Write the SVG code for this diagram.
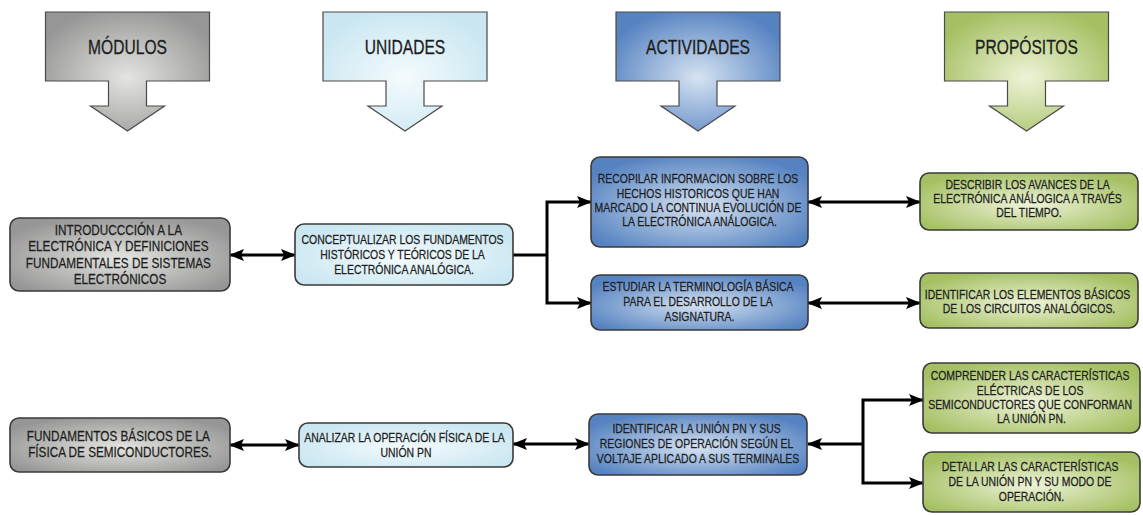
<svg xmlns="http://www.w3.org/2000/svg" width="1143" height="515" viewBox="0 0 1143 515">
  <defs>
    <style>
      .box { stroke: #3a3a3a; stroke-width: 1.6; }
      .hdr { stroke: #4a4a4a; stroke-width: 1.2; }
      .t { font-family: "Liberation Sans", Arial, sans-serif; fill: #1e1e1e; stroke: #1e1e1e; stroke-width: 0.25; text-anchor: middle; }
      .ht { font-size: 20px; stroke-width: 0.3; }
      .bt { font-size: 12px; }
      .gt { font-size: 14px; }
      .wire { fill: none; stroke: #000; stroke-width: 3; }
    </style>
    <radialGradient id="gGray" cx="0.5" cy="0.55" r="0.6">
      <stop offset="0" stop-color="#e4e4e0"/>
      <stop offset="1" stop-color="#969696"/>
    </radialGradient>
    <radialGradient id="gLight" cx="0.5" cy="0.55" r="0.6">
      <stop offset="0" stop-color="#f4fbfd"/>
      <stop offset="1" stop-color="#c9e6f1"/>
    </radialGradient>
    <radialGradient id="gBlue" cx="0.5" cy="0.55" r="0.6">
      <stop offset="0" stop-color="#d6e3f2"/>
      <stop offset="1" stop-color="#5582c1"/>
    </radialGradient>
    <radialGradient id="gGreen" cx="0.5" cy="0.55" r="0.6">
      <stop offset="0" stop-color="#eef3d8"/>
      <stop offset="1" stop-color="#a4c062"/>
    </radialGradient>
    <marker id="ah" viewBox="0 0 15 12" refX="14" refY="6" markerWidth="15" markerHeight="12" markerUnits="userSpaceOnUse" orient="auto-start-reverse">
      <path d="M0,0 L15,6 L0,12 L3,6 Z" fill="#000"/>
    </marker>
  </defs>
  <rect width="1143" height="515" fill="#fff"/>

  <!-- column headers -->
  <g id="hdr-modulos">
    <path class="hdr" fill="url(#gGray)" d="M45.5,12 H209.5 V81 H146.5 V106 H164.5 L127.5,131 L90.5,106 H108.5 V81 H45.5 Z"/>
    <text class="t ht" transform="translate(127.5,0) scale(0.78,1)" x="0" y="54">MÓDULOS</text>
  </g>
  <g id="hdr-unidades">
    <path class="hdr" fill="url(#gLight)" d="M323,12 H487 V81 H424 V106 H442 L405,131 L368,106 H386 V81 H323 Z"/>
    <text class="t ht" transform="translate(405,0) scale(0.78,1)" x="0" y="54">UNIDADES</text>
  </g>
  <g id="hdr-actividades">
    <path class="hdr" fill="url(#gBlue)" d="M616,12 H780 V81 H717 V106 H735 L698,131 L661,106 H679 V81 H616 Z"/>
    <text class="t ht" transform="translate(698,0) scale(0.78,1)" x="0" y="54">ACTIVIDADES</text>
  </g>
  <g id="hdr-propositos">
    <path class="hdr" fill="url(#gGreen)" d="M944.5,12 H1108.5 V81 H1045.5 V106 H1063.5 L1026.5,131 L989.5,106 H1007.5 V81 H944.5 Z"/>
    <text class="t ht" transform="translate(1026.5,0) scale(0.78,1)" x="0" y="54">PROPÓSITOS</text>
  </g>

  <!-- connectors -->
  <g id="connectors">
    <line class="wire" x1="230" y1="255" x2="295" y2="255" marker-start="url(#ah)" marker-end="url(#ah)"/>
    <path class="wire" d="M513,255 H547"/>
    <path class="wire" d="M591,202 H547 V303 H591" marker-start="url(#ah)" marker-end="url(#ah)"/>
    <line class="wire" x1="808" y1="202" x2="920" y2="202" marker-start="url(#ah)" marker-end="url(#ah)"/>
    <line class="wire" x1="808" y1="303" x2="920" y2="303" marker-start="url(#ah)" marker-end="url(#ah)"/>
    <line class="wire" x1="230" y1="445" x2="299" y2="445" marker-start="url(#ah)" marker-end="url(#ah)"/>
    <line class="wire" x1="513" y1="444" x2="589" y2="444" marker-start="url(#ah)" marker-end="url(#ah)"/>
    <path class="wire" d="M863,444 H808" marker-end="url(#ah)"/>
    <path class="wire" d="M923,400 H863 V483 H923" marker-start="url(#ah)" marker-end="url(#ah)"/>
  </g>

  <!-- row 1 -->
  <g id="mod-introduccion">
    <rect class="box" x="10" y="218" width="220" height="73" rx="9" fill="url(#gGray)"/>
    <text class="t gt" transform="translate(120,0) scale(0.84,1)">
      <tspan x="0" y="235">INTRODUCCCIÓN A LA</tspan>
      <tspan x="0" y="251.5">ELECTRÓNICA Y DEFINICIONES</tspan>
      <tspan x="0" y="268">FUNDAMENTALES DE SISTEMAS</tspan>
      <tspan x="0" y="284.5">ELECTRÓNICOS</tspan>
    </text>
  </g>
  <g id="uni-conceptualizar">
    <rect class="box" x="295" y="224" width="218" height="61" rx="9" fill="url(#gLight)"/>
    <text class="t bt" transform="translate(404,0) scale(0.87,1)">
      <tspan x="0" y="244">CONCEPTUALIZAR LOS FUNDAMENTOS</tspan>
      <tspan x="0" y="259">HISTÓRICOS Y TEÓRICOS DE LA</tspan>
      <tspan x="0" y="274">ELECTRÓNICA ANALÓGICA.</tspan>
    </text>
  </g>
  <g id="act-recopilar">
    <rect class="box" x="591" y="157" width="217" height="90" rx="9" fill="url(#gBlue)"/>
    <text class="t bt" transform="translate(699.5,0) scale(0.87,1)">
      <tspan x="0" y="183.5">RECOPILAR  INFORMACION SOBRE LOS</tspan>
      <tspan x="0" y="197.8">HECHOS  HISTORICOS QUE HAN</tspan>
      <tspan x="0" y="212">MARCADO LA CONTINUA EVOLUCIÓN DE</tspan>
      <tspan x="0" y="226.3">LA ELECTRÓNICA ANÁLOGICA.</tspan>
    </text>
  </g>
  <g id="act-estudiar">
    <rect class="box" x="591" y="275" width="217" height="55" rx="9" fill="url(#gBlue)"/>
    <text class="t bt" transform="translate(699.5,0) scale(0.87,1)">
      <tspan x="0" y="291.5">ESTUDIAR LA TERMINOLOGÍA BÁSICA</tspan>
      <tspan x="0" y="306.5">PARA EL DESARROLLO DE LA</tspan>
      <tspan x="0" y="321.5">ASIGNATURA.</tspan>
    </text>
  </g>
  <g id="pro-describir">
    <rect class="box" x="920" y="173" width="218" height="57" rx="9" fill="url(#gGreen)"/>
    <text class="t bt" transform="translate(1029,0) scale(0.87,1)">
      <tspan x="0" y="189.5">DESCRIBIR LOS AVANCES DE LA</tspan>
      <tspan x="0" y="203.5">ELECTRÓNICA ANÁLOGICA A TRAVÉS</tspan>
      <tspan x="0" y="217.5">DEL TIEMPO.</tspan>
    </text>
  </g>
  <g id="pro-identificar">
    <rect class="box" x="920" y="273" width="218" height="55" rx="9" fill="url(#gGreen)"/>
    <text class="t bt" transform="translate(1029,0) scale(0.87,1)">
      <tspan x="0" y="299.5">IDENTIFICAR LOS ELEMENTOS BÁSICOS</tspan>
      <tspan x="0" y="313.5">DE LOS CIRCUITOS ANALÓGICOS.</tspan>
    </text>
  </g>

  <!-- row 2 -->
  <g id="mod-fundamentos">
    <rect class="box" x="10" y="418" width="220" height="54" rx="9" fill="url(#gGray)"/>
    <text class="t gt" transform="translate(120,0) scale(0.84,1)">
      <tspan x="0" y="441">FUNDAMENTOS BÁSICOS DE LA</tspan>
      <tspan x="0" y="457">FÍSICA DE SEMICONDUCTORES.</tspan>
    </text>
  </g>
  <g id="uni-analizar">
    <rect class="box" x="299" y="423" width="214" height="44" rx="9" fill="url(#gLight)"/>
    <text class="t bt" transform="translate(406,0) scale(0.87,1)">
      <tspan x="0" y="442">ANALIZAR LA OPERACIÓN FÍSICA DE LA</tspan>
      <tspan x="0" y="457">UNIÓN PN</tspan>
    </text>
  </g>
  <g id="act-identificar-union">
    <rect class="box" x="589" y="414" width="218" height="61" rx="9" fill="url(#gBlue)"/>
    <text class="t bt" transform="translate(698,0) scale(0.87,1)">
      <tspan x="0" y="433.5">IDENTIFICAR LA UNIÓN PN Y SUS</tspan>
      <tspan x="0" y="448.5">REGIONES DE OPERACIÓN SEGÚN EL</tspan>
      <tspan x="0" y="463.5">VOLTAJE APLICADO A SUS TERMINALES</tspan>
    </text>
  </g>
  <g id="pro-comprender">
    <rect class="box" x="923" y="363" width="217" height="70" rx="9" fill="url(#gGreen)"/>
    <text class="t bt" transform="translate(1031.5,0) scale(0.87,1)">
      <tspan x="0" y="380.5">COMPRENDER LAS CARACTERÍSTICAS</tspan>
      <tspan x="0" y="394.7">ELÉCTRICAS DE LOS</tspan>
      <tspan x="0" y="409">SEMICONDUCTORES QUE CONFORMAN</tspan>
      <tspan x="0" y="423.3">LA UNIÓN PN.</tspan>
    </text>
  </g>
  <g id="pro-detallar">
    <rect class="box" x="923" y="452" width="217" height="60" rx="9" fill="url(#gGreen)"/>
    <text class="t bt" transform="translate(1031.5,0) scale(0.87,1)">
      <tspan x="0" y="471.5">DETALLAR LAS CARACTERÍSTICAS</tspan>
      <tspan x="0" y="486.5">DE LA UNIÓN PN Y SU MODO DE</tspan>
      <tspan x="0" y="501.5">OPERACIÓN.</tspan>
    </text>
  </g>
</svg>
